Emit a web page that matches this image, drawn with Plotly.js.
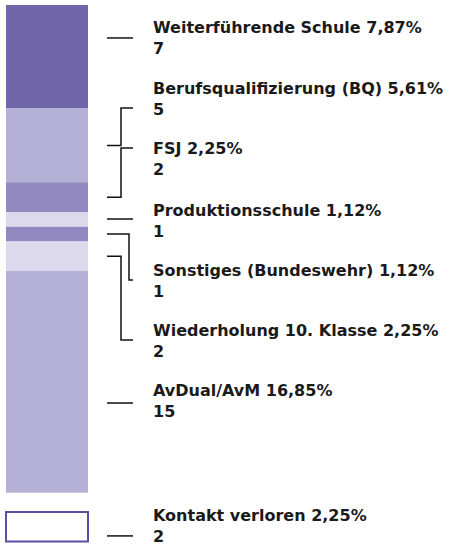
<!DOCTYPE html>
<html>
<head>
<meta charset="utf-8">
<script src="https://cdn.plot.ly/plotly-3.0.1.min.js"></script>
<style>html,body{margin:0;padding:0;background:#fff;}#chart{width:472px;height:547px;}</style>
</head>
<body>
<div id="chart"></div>
<script>
// ---- data ----
const categories = ["Weiterführende Schule", "Berufsqualifizierung (BQ)", "FSJ", "Produktionsschule",
  "Sonstiges (Bundeswehr)", "Wiederholung 10. Klasse", "AvDual/AvM"];
const counts = [7, 5, 2, 1, 1, 2, 15];
const percents = ["7,87%", "5,61%", "2,25%", "1,12%", "1,12%", "2,25%", "16,85%"];
const lostCategory = "Kontakt verloren";
const lostCount = 2;
const lostPercent = "2,25%";

// ---- layout / style (not data) ----
const colors = ["#7166a9", "#b5b0d6", "#9189c0", "#dcd9ed", "#9189c0", "#dcd9ed", "#b5b0d6"];
const lostBase = 34.3;              // gap below the stacked bar
const labelY = [2.23, 6.39, 10.45, 14.61, 18.67, 22.73, 26.80];   // label block centres
const connY  = [2.23, 6.97, 9.68, 14.48, 18.61, 22.67, 26.93];    // connector end heights
const elbowX = [121, 121, 121, 121, 129, 121, 121];
const lostLabelY = 35.25, lostConnY = 35.92;
const barX = 47, barW = 82, lineX0 = 107, lineX1 = 133, textX = 152;
const fontFam = "DejaVu Sans";

const traces = [];
const shapes = [];
const annotations = [];
let cum = 0;
function connector(start, end, y0, y1, ex) {
  if (y1 >= start && y1 <= end) {
    shapes.push({type: "line", xref: "x", yref: "y", x0: lineX0, x1: lineX1, y0: y1, y1: y1,
      line: {color: "#111", width: 1.5}});
  } else {
    shapes.push({type: "path", xref: "x", yref: "y",
      path: `M ${lineX0},${y0} H ${ex} V ${y1} H ${lineX1}`,
      line: {color: "#111", width: 1.5}});
  }
}
function label(name, pct, n, y) {
  annotations.push({xref: "x", yref: "y", x: textX, y: y, xanchor: "left", yanchor: "middle",
    align: "left", showarrow: false, borderpad: 0,
    text: `<b>${name} ${pct}</b><br><b>${n}</b>`,
    font: {family: fontFam, size: 16, color: "#1a1a1a"}});
}
for (let i = 0; i < counts.length; i++) {
  traces.push({type: "bar", x: [barX], y: [counts[i]], base: [cum], width: barW,
    marker: {color: colors[i], line: {width: 0}}, name: categories[i], hoverinfo: "name+y"});
  const mid = cum + counts[i] / 2;
  connector(cum, cum + counts[i], mid, connY[i], elbowX[i]);
  label(categories[i], percents[i], counts[i], labelY[i]);
  cum += counts[i];
}
traces.push({type: "bar", x: [barX], y: [lostCount], base: [lostBase], width: barW,
  marker: {color: "#ffffff", line: {width: 2, color: "#5b4fa0"}}, name: lostCategory, hoverinfo: "name+y"});
connector(lostBase, lostBase + lostCount, lostBase + lostCount / 2, lostConnY, 121);
label(lostCategory, lostPercent, lostCount, lostLabelY);

const layout = {
  width: 472, height: 547,
  margin: {l: 0, r: 0, t: 5, b: 4},
  paper_bgcolor: "#fff", plot_bgcolor: "#fff",
  barmode: "overlay", showlegend: false,
  xaxis: {range: [0, 472], visible: false, fixedrange: true},
  yaxis: {range: [36.4, 0], visible: false, fixedrange: true},
  shapes: shapes, annotations: annotations
};
Plotly.newPlot("chart", traces, layout, {displayModeBar: false, staticPlot: true});
</script>
</body>
</html>
